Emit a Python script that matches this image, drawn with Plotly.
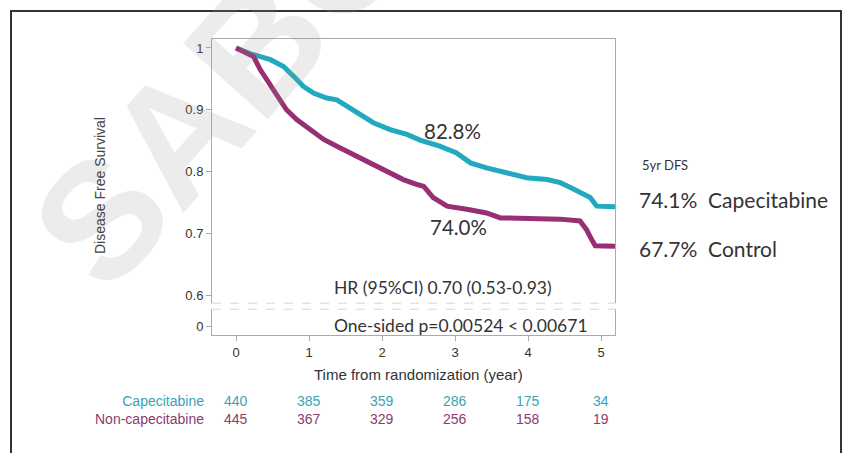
import plotly.graph_objects as go

# ---- data ----
cape_t = [0, 0.19, 0.47, 0.65, 0.79, 0.92, 1.06, 1.24, 1.38, 1.52, 1.70, 1.88, 2.11, 2.34, 2.52,
          2.66, 2.79, 3.02, 3.21, 3.43, 3.71, 3.98, 4.26, 4.44, 4.58, 4.71, 4.85, 4.94, 5.19]
cape_s = [1.0, 0.991, 0.981, 0.970, 0.954, 0.938, 0.927, 0.919, 0.916, 0.905, 0.892, 0.879, 0.868, 0.860, 0.851,
          0.846, 0.841, 0.830, 0.814, 0.806, 0.798, 0.790, 0.787, 0.782, 0.774, 0.766, 0.758, 0.744, 0.743]
ctrl_t = [0, 0.24, 0.33, 0.42, 0.56, 0.69, 0.83, 1.01, 1.20, 1.38, 1.56, 1.74, 1.93, 2.11, 2.29, 2.48,
          2.57, 2.70, 2.89, 3.16, 3.43, 3.62, 3.89, 4.26, 4.44, 4.71, 4.80, 4.87, 4.92, 5.19]
ctrl_s = [1.0, 0.986, 0.965, 0.948, 0.921, 0.900, 0.884, 0.868, 0.852, 0.841, 0.830, 0.819, 0.809, 0.798, 0.787, 0.779,
          0.776, 0.758, 0.744, 0.739, 0.733, 0.725, 0.724, 0.724, 0.723, 0.720, 0.706, 0.690, 0.680, 0.679]

x_ticks = [0, 1, 2, 3, 4, 5]
y_tickvals = [0.55, 0.6, 0.7, 0.8, 0.9, 1.0]   # 0.55 stands in for the broken-axis "0"
y_ticktext = ["0", "0.6", "0.7", "0.8", "0.9", "1"]
risk_cape = [440, 385, 359, 286, 175, 34]
risk_ctrl = [445, 367, 329, 256, 158, 19]

CYAN = "#22a9bd"
MAG = "#962f74"
RISK_CYAN = "#3aa3b6"
RISK_MAG = "#8c3b6d"

W, H = 843, 453
L, R, T, B = 212, 615, 39, 335  # plot area in pixels


def px(xp):
    return (xp - L) / (R - L)


def py(yp):
    return (B - yp) / (B - T)


fig = go.Figure()
fig.add_trace(go.Scatter(x=cape_t, y=cape_s, mode="lines", line=dict(shape="linear", color=CYAN, width=5),
                         showlegend=False, hoverinfo="skip"))
fig.add_trace(go.Scatter(x=ctrl_t, y=ctrl_s, mode="lines", line=dict(shape="linear", color=MAG, width=5),
                         showlegend=False, hoverinfo="skip"))

axis_font = dict(family="Liberation Sans Narrow, Liberation Sans, Arial", size=13, color="#333")
fig.update_xaxes(range=[-0.33, 5.19], tickvals=x_ticks, ticks="outside", ticklen=5, tickcolor="#aaa",
                 showline=True, linecolor="#aaa", linewidth=1, mirror=True, showgrid=False, zeroline=False,
                 tickfont=axis_font)
fig.update_yaxes(range=[0.5355, 1.0145], tickvals=y_tickvals, ticktext=y_ticktext, ticks="outside",
                 ticklen=5, tickcolor="#aaa", showline=True, linecolor="#aaa", linewidth=1, mirror=True,
                 showgrid=False, zeroline=False, tickfont=axis_font)

shapes = []
# axis break
shapes.append(dict(type="rect", xref="paper", yref="y", x0=-0.02, x1=1.02, y0=0.5772, y1=0.5868,
                   fillcolor="white", line=dict(width=0), layer="above"))
for yv in (0.587, 0.5772):
    shapes.append(dict(type="line", xref="paper", yref="y", x0=0, x1=1, y0=yv, y1=yv,
                       line=dict(color="#e0d2d6", width=1, dash="dash"), layer="above"))
# outer frame
shapes.append(dict(type="rect", xref="paper", yref="paper", x0=px(11), x1=px(841), y0=py(470), y1=py(11),
                   line=dict(color="#333", width=2), fillcolor="rgba(0,0,0,0)"))

cal = "Lato, Open Sans, sans-serif"
narrow = "Liberation Sans Narrow, Liberation Sans, Arial"
ann = []


def add(text, x, y, xref="paper", yref="paper", xa="center", ya="middle", **kw):
    ann.append(dict(text=text, x=x, y=y, xref=xref, yref=yref, xanchor=xa, yanchor=ya, showarrow=False, **kw))


# watermark
add("<b>SABCS</b>", px(258), py(45), textangle=-48,
    font=dict(family="Liberation Sans, Arial", size=165, color="rgba(150,150,150,0.18)"))
add("82.8%", 2.97, 0.865, xref="x", yref="y", font=dict(family=cal, size=20.5, color="#333"))
add("74.0%", 3.04, 0.710, xref="x", yref="y", font=dict(family=cal, size=20.5, color="#333"))
add("HR (95%CI) 0.70 (0.53-0.93)", px(332), py(287), xa="left", font=dict(family=cal, size=17.5, color="#333"))
add("One-sided p=0.00524 < 0.00671", px(332), py(325), xa="left", font=dict(family=cal, size=17.5, color="#333"))
add("5yr DFS", px(640), py(165), xa="left", font=dict(family=cal, size=13, color="#333"))
add("74.1%  Capecitabine", px(637), py(200), xa="left", font=dict(family=cal, size=21, color="#333"))
add("67.7%  Control", px(637), py(248), xa="left", font=dict(family=cal, size=21, color="#333"))
add("Disease Free Survival", px(100), py(186), textangle=-90, font=dict(family=narrow, size=14, color="#444"))
add("Time from randomization (year)", 2.5, py(374), xref="x", font=dict(family=narrow, size=15, color="#333"))


# numbers at risk: two coloured lines per annotation
def two_rows(top, bottom):
    return (f"<span style='color:{RISK_CYAN}'>{top}</span><br>"
            f"<span style='color:{RISK_MAG}'>{bottom}</span>")


add(two_rows("Capecitabine", "Non-capecitabine"), px(206), py(410), xa="right", align="right",
    font=dict(family=narrow, size=14, color=RISK_CYAN))
for xv, a, b in zip(x_ticks, risk_cape, risk_ctrl):
    add(two_rows(a, b), xv, py(410), xref="x", align="center", font=dict(family=narrow, size=14, color=RISK_CYAN))

fig.update_layout(width=W, height=H, margin=dict(l=L, r=W - R, t=T, b=H - B),
                  paper_bgcolor="white", plot_bgcolor="rgba(0,0,0,0)",
                  shapes=shapes, annotations=ann)
fig.write_html("out.html", config={"displayModeBar": False},
               post_script="document.body.style.margin='0';")
